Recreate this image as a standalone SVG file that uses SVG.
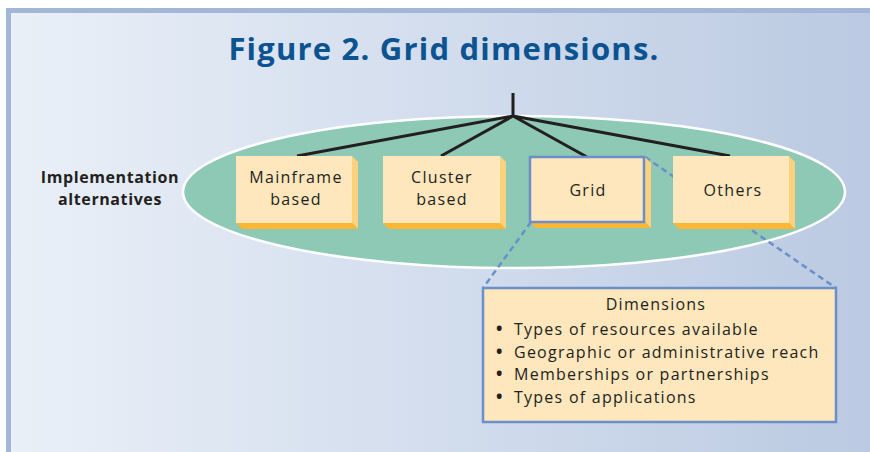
<svg xmlns="http://www.w3.org/2000/svg" width="870" height="452" viewBox="0 0 870 452">
  <defs>
    <linearGradient id="bg" x1="0" y1="0" x2="1" y2="0">
      <stop offset="0" stop-color="#eaf0f8"/>
      <stop offset="1" stop-color="#bbcae2"/>
    </linearGradient>
  </defs>
  <style>
    .lbl{font-family:"Open Sans","Liberation Sans",sans-serif;font-size:16px;letter-spacing:1.3px;fill:#231f20;text-anchor:middle}
    .front{fill:#fee7bd}
    .side{fill:#fdd17e}
    .bottom{fill:#fbb634}
    .tree{stroke:#231f20;stroke-width:3;fill:none}
    .dash{stroke:#6b8fc9;stroke-width:2.5;stroke-dasharray:6 4;fill:none}
    .item{font-family:"Open Sans","Liberation Sans",sans-serif;font-size:16px;letter-spacing:1.25px;fill:#231f20}
    .bul{font-weight:bold;font-size:17px}
  </style>
  <rect x="0" y="0" width="870" height="452" fill="#ffffff"/>
  <rect x="6" y="8" width="864" height="444" fill="url(#bg)"/>
  <rect x="6" y="8" width="864" height="5" fill="#a2b7d6"/>
  <rect x="6" y="8" width="5" height="444" fill="#a2b7d6"/>
  <text x="444" y="60" text-anchor="middle" font-family="Open Sans, Liberation Sans, sans-serif" font-weight="bold" font-size="31" letter-spacing="1.2" fill="#0b5391">Figure 2. Grid dimensions.</text>
  <text text-anchor="middle" font-family="Open Sans, Liberation Sans, sans-serif" font-weight="bold" font-size="16" letter-spacing="0.6" fill="#231f20"><tspan x="110" y="183">Implementation</tspan><tspan x="110" y="205">alternatives</tspan></text>
  <ellipse id="ellipse" cx="514" cy="192" rx="331" ry="76" fill="#8ec9b5" stroke="#ffffff" stroke-width="2.5"/>
  <g id="connectors">
    <path class="tree" d="M513 93 V116 M513 116 L297 156 M513 116 L441 156 M513 116 L587 157 M513 116 L730 156"/>
    <path class="dash" d="M645 157 L836 288"/>
    <path class="dash" d="M531 222 L483 288"/>
  </g>
  <g id="mainframe">
    <polygon class="side" points="352,156 358,162 358,229 352,223"/>
    <polygon class="bottom" points="236,223 352,223 358,229 242,229"/>
    <rect class="front" x="236" y="156" width="116" height="67"/>
    <text class="lbl"><tspan x="296" y="183">Mainframe</tspan><tspan x="296" y="205">based</tspan></text>
  </g>
  <g id="cluster">
    <polygon class="side" points="500,156 506,162 506,229 500,223"/>
    <polygon class="bottom" points="383,223 500,223 506,229 389,229"/>
    <rect class="front" x="383" y="156" width="117" height="67"/>
    <text class="lbl"><tspan x="442" y="183">Cluster</tspan><tspan x="442" y="205">based</tspan></text>
  </g>
  <g id="grid">
    <polygon class="side" points="645,157 651,163 651,228 645,222"/>
    <polygon class="bottom" points="530,222 645,222 651,228 536,228"/>
    <rect class="front" x="530" y="157" width="114" height="65" stroke="#6b8fc9" stroke-width="2.5"/>
    <text class="lbl" x="588" y="196">Grid</text>
  </g>
  <g id="others">
    <polygon class="side" points="789,156 795,162 795,229 789,223"/>
    <polygon class="bottom" points="673,223 789,223 795,229 679,229"/>
    <rect class="front" x="673" y="156" width="116" height="67"/>
    <text class="lbl" x="733" y="196">Others</text>
  </g>
  <g id="dimensions">
    <rect x="483" y="288" width="353" height="134" fill="#fee7bd" stroke="#6b8fc9" stroke-width="2.5"/>
    <text class="item"><tspan x="656" y="310" text-anchor="middle">Dimensions</tspan><tspan class="bul" x="496" y="335">•</tspan><tspan x="514" y="335">Types of resources available</tspan><tspan class="bul" x="496" y="357.7">•</tspan><tspan x="514" y="357.7">Geographic or administrative reach</tspan><tspan class="bul" x="496" y="380.4">•</tspan><tspan x="514" y="380.4">Memberships or partnerships</tspan><tspan class="bul" x="496" y="403">•</tspan><tspan x="514" y="403">Types of applications</tspan></text>
  </g>
</svg>
